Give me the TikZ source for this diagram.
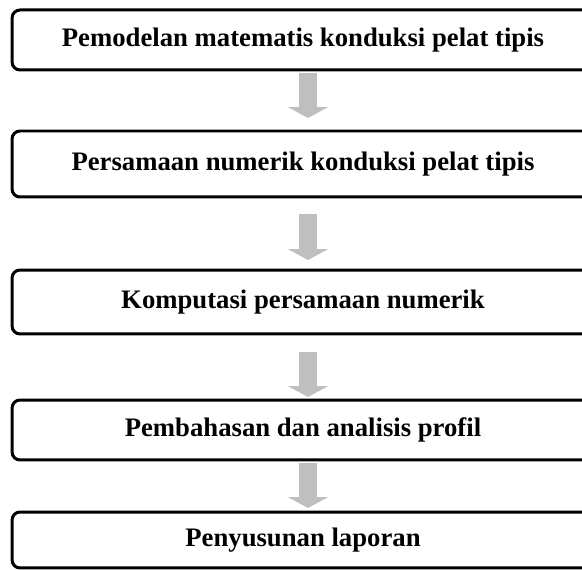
\documentclass[tikz,border=0pt]{standalone}
\usepackage{fontspec}
\setmainfont{Liberation Serif}
\usetikzlibrary{arrows.meta,positioning}
\definecolor{arrowgray}{RGB}{191,191,191}

\begin{document}
\begin{tikzpicture}[x=0.02cm,y=-0.02cm,
    stepbox/.style={draw,line width=0.06cm,rounded corners=0.16cm,minimum width=11.64cm,
        inner sep=0pt,outer sep=0pt,font=\fontsize{15.2}{17}\selectfont\bfseries},
    blockarrow/.style={draw=arrowgray,line width=0.38cm,-{Triangle[width=0.8cm,length=0.22cm]}}]
    \useasboundingbox (0,0) rectangle (582,570);
    \node[stepbox,minimum height=1.2cm] (model) at (303,40) {Pemodelan matematis konduksi pelat tipis};
    \node[stepbox,minimum height=1.32cm] (numerik) at (303,164) {Persamaan numerik konduksi pelat tipis};
    \node[stepbox,minimum height=1.28cm] (komputasi) at (303,302) {Komputasi persamaan numerik};
    \node[stepbox,minimum height=1.2cm] (analisis) at (303,430) {Pembahasan dan analisis profil};
    \node[stepbox,minimum height=1.12cm] (laporan) at (303,540) {Penyusunan laporan};
    \draw[blockarrow,shorten <=0.06cm,shorten >=0.26cm] ([xshift=0.1cm]model.south) -- ([xshift=0.1cm]numerik.north);
    \draw[blockarrow,shorten <=0.34cm,shorten >=0.2cm] ([xshift=0.1cm]numerik.south) -- ([xshift=0.1cm]komputasi.north);
    \draw[blockarrow,shorten <=0.36cm,shorten >=0.06cm] ([xshift=0.1cm]komputasi.south) -- ([xshift=0.1cm]analisis.north);
    \draw[blockarrow,shorten <=0.06cm,shorten >=0.08cm] ([xshift=0.1cm]analisis.south) -- ([xshift=0.1cm]laporan.north);
\end{tikzpicture}
\end{document}
